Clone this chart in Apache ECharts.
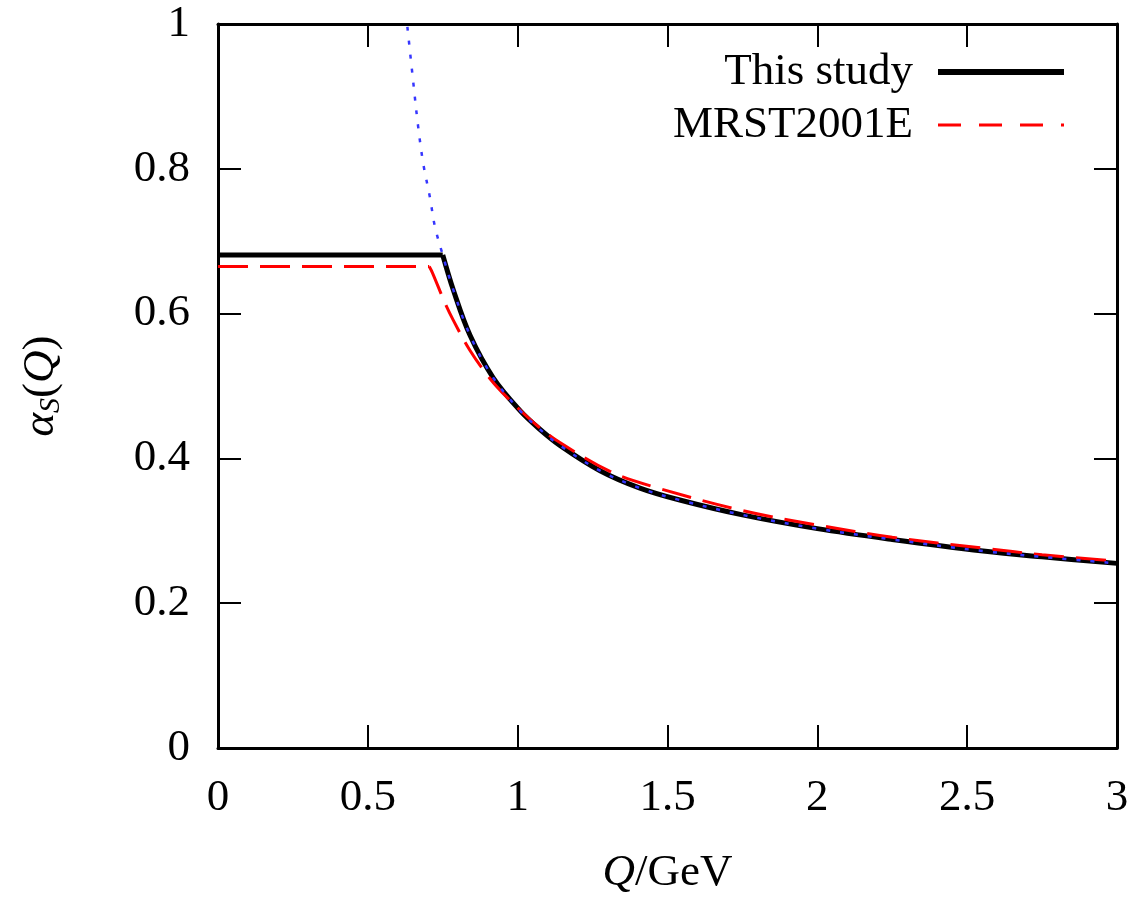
<!DOCTYPE html>
<html>
<head>
<meta charset="utf-8">
<script src="https://cdn.jsdelivr.net/npm/echarts@6/dist/echarts.min.js"></script>
<style>
html,body{margin:0;padding:0;background:#fff;}
#chart{width:1135px;height:906px;}
</style>
</head>
<body>
<div id="chart"></div>
<script>
// ---- Data ----
const xTicks = [0, 0.5, 1, 1.5, 2, 2.5, 3];
const yTicks = [0, 0.2, 0.4, 0.6, 0.8, 1];

// "This study" : frozen part and running part
const studyFlatQ = [0, 0.75];
const studyFlatA = [0.681, 0.681];
const studyQ = [0.75, 0.785, 0.841, 0.919, 1.008, 1.069, 1.141, 1.275, 1.408, 1.541, 1.75, 2.0, 2.25, 2.553, 2.75, 3.0];
const studyA = [0.681, 0.633, 0.570, 0.511, 0.466, 0.442, 0.418, 0.383, 0.359, 0.3425, 0.322, 0.303, 0.288, 0.272, 0.264, 0.255];

// "MRST2001E"
const mrstFlatQ = [0, 0.705];
const mrstFlatA = [0.665, 0.665];
const mrstQ = [0.705, 0.716, 0.757, 0.785, 0.841, 0.908, 0.963, 1.063, 1.141, 1.308, 1.452, 1.75, 2.0, 2.25, 2.553, 2.75, 3.0];
const mrstA = [0.665, 0.656, 0.615, 0.591, 0.549, 0.510, 0.485, 0.446, 0.422, 0.382, 0.361, 0.328, 0.308, 0.291, 0.276, 0.267, 0.258];

// blue dotted (unfrozen) curve: steep branch above the freezing point, then on top of "This study"
const blueSteepQ = [0.632, 0.652, 0.668, 0.685, 0.707, 0.724];
const blueSteepA = [0.996, 0.918, 0.858, 0.807, 0.761, 0.720];

const zip = (xs, ys) => xs.map((x, i) => [x, ys[i]]);
const blueData = zip(blueSteepQ, blueSteepA).concat(zip(studyQ, studyA));

const FONT = '"Liberation Serif", "DejaVu Serif", serif';

const chart = echarts.init(document.getElementById('chart'), null, {renderer: 'canvas'});

const axisCommon = {
  type: 'value',
  axisLine: {show: true, onZero: false, lineStyle: {color: '#000', width: 3}},
  axisTick: {show: true, inside: true, length: 23, lineStyle: {color: '#000', width: 2}},
  splitLine: {show: false}
};

const option = {
  backgroundColor: '#fff',
  animation: false,
  grid: {left: 218, top: 24, right: 18, bottom: 158, containLabel: false},
  legend: {
    orient: 'vertical',
    align: 'right',
    right: 68,
    top: 47,
    padding: 0,
    itemGap: 3,
    itemWidth: 126,
    itemHeight: 14,
    textStyle: {fontFamily: FONT, fontSize: 45, lineHeight: 50, color: '#000', padding: [0, 20, 0, 0]},
    data: [
      {name: 'This study', itemStyle: {opacity: 0}, lineStyle: {width: 6, color: '#000', type: 'solid'}},
      {name: 'MRST2001E', itemStyle: {opacity: 0}, lineStyle: {width: 3, color: '#ff0000', type: [23, 18]}}
    ]
  },
  xAxis: [
    Object.assign({}, axisCommon, {
      min: 0, max: 3, interval: 0.5, position: 'bottom',
      axisLabel: {show: true, margin: 28, fontFamily: FONT, fontSize: 45, color: '#000',
        formatter: v => String(v)},
      name: '{i|Q}/GeV',
      nameLocation: 'middle',
      nameGap: 103,
      nameTextStyle: {fontFamily: FONT, fontSize: 45, color: '#000',
        rich: {i: {fontFamily: FONT, fontSize: 45, fontStyle: 'italic', color: '#000'}}}
    }),
    Object.assign({}, axisCommon, {
      min: 0, max: 3, interval: 0.5, position: 'top',
      axisLabel: {show: false}
    })
  ],
  yAxis: [
    Object.assign({}, axisCommon, {
      min: 0, max: 1, interval: 0.2, position: 'left',
      axisLabel: {show: true, margin: 28, fontFamily: FONT, fontSize: 45, color: '#000',
        formatter: v => String(+v.toFixed(1))},
      name: '{i|α}{sub|S}({i|Q})',
      nameLocation: 'middle',
      nameRotate: 90,
      nameGap: 152,
      nameTextStyle: {fontFamily: FONT, fontSize: 45, color: '#000', lineHeight: 50,
        rich: {
          i: {fontFamily: FONT, fontSize: 45, fontStyle: 'italic', color: '#000', lineHeight: 50},
          sub: {fontFamily: FONT, fontSize: 30, fontStyle: 'italic', color: '#000', lineHeight: 30, verticalAlign: 'bottom'}
        }}
    }),
    Object.assign({}, axisCommon, {
      min: 0, max: 1, interval: 0.2, position: 'right',
      axisLabel: {show: false}
    })
  ],
  series: [
    {
      name: 'This study', type: 'line', xAxisIndex: 0, yAxisIndex: 0,
      symbol: 'none', data: zip(studyFlatQ, studyFlatA),
      lineStyle: {color: '#000', width: 5}, itemStyle: {color: '#000'}, z: 2
    },
    {
      name: 'This study', type: 'line', xAxisIndex: 0, yAxisIndex: 0,
      symbol: 'none', smooth: 0.35, data: zip(studyQ, studyA),
      lineStyle: {color: '#000', width: 5}, itemStyle: {color: '#000'}, z: 2
    },
    {
      name: 'MRST2001E', type: 'line', xAxisIndex: 0, yAxisIndex: 0,
      symbol: 'none', data: zip(mrstFlatQ, mrstFlatA),
      lineStyle: {color: '#ff0000', width: 3, type: [30, 12]}, itemStyle: {color: '#ff0000'}, z: 3
    },
    {
      name: 'MRST2001E', type: 'line', xAxisIndex: 0, yAxisIndex: 0,
      symbol: 'none', smooth: 0.35, data: zip(mrstQ, mrstA),
      lineStyle: {color: '#ff0000', width: 3, type: [30, 12]}, itemStyle: {color: '#ff0000'}, z: 3
    },
    {
      name: 'unfrozen', type: 'line', xAxisIndex: 0, yAxisIndex: 0,
      symbol: 'none', smooth: 0.35, data: blueData,
      lineStyle: {color: '#3636ff', width: 2.5, type: [4, 10]}, itemStyle: {color: '#3636ff'}, z: 4
    }
  ]
};

chart.setOption(option);
</script>
</body>
</html>
